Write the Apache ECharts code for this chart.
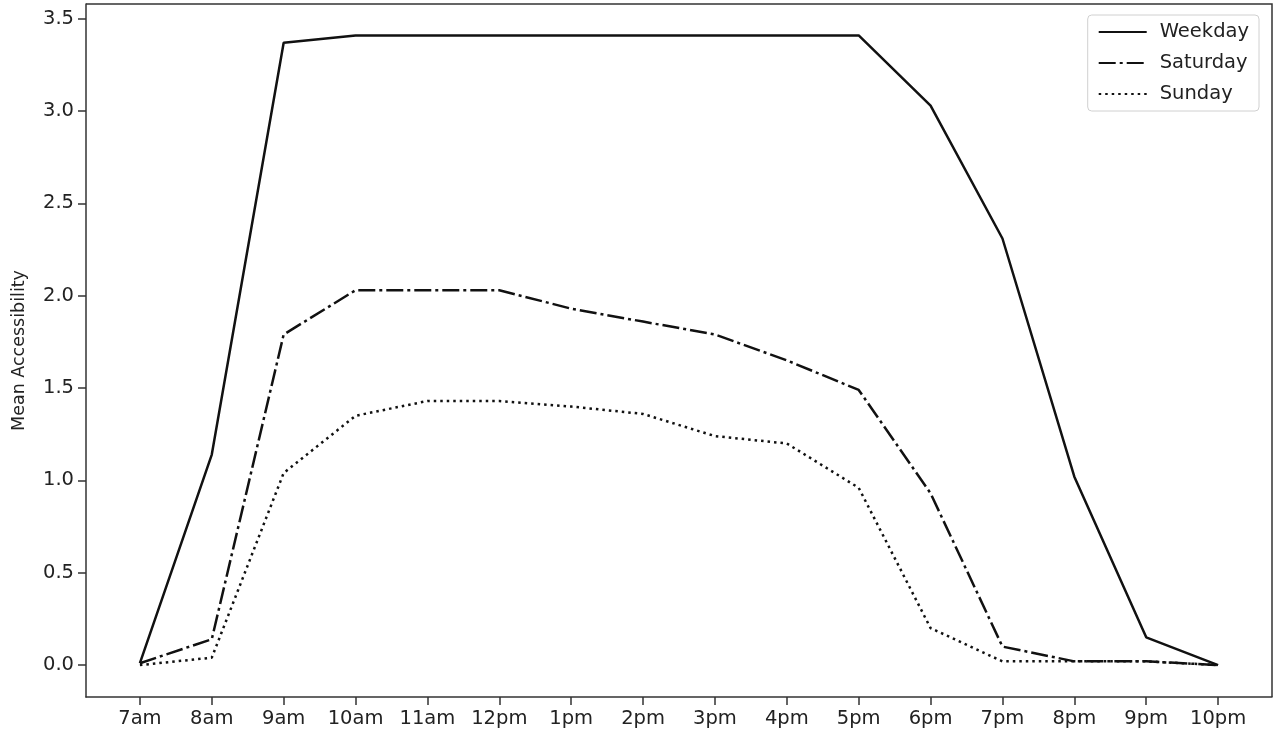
<!DOCTYPE html>
<html>
<head>
<meta charset="utf-8">
<script src="https://cdn.jsdelivr.net/npm/echarts@6/dist/echarts.min.js"></script>
<style>
  html, body { margin: 0; padding: 0; background: #fff; }
  #chart { width: 1280px; height: 742px; }
</style>
</head>
<body>
<div id="chart"></div>
<script>
// hours on the x axis
const hours = ['7am', '8am', '9am', '10am', '11am', '12pm', '1pm', '2pm', '3pm', '4pm', '5pm', '6pm', '7pm', '8pm', '9pm', '10pm'];

// mean accessibility per hour
const weekday = [0.01, 1.14, 3.37, 3.41, 3.41, 3.41, 3.41, 3.41, 3.41, 3.41, 3.41, 3.03, 2.31, 1.02, 0.15, 0.0];
const saturday = [0.01, 0.14, 1.79, 2.03, 2.03, 2.03, 1.93, 1.86, 1.79, 1.65, 1.49, 0.93, 0.10, 0.02, 0.02, 0.0];
const sunday = [0.0, 0.04, 1.04, 1.35, 1.43, 1.43, 1.40, 1.36, 1.24, 1.20, 0.96, 0.20, 0.02, 0.02, 0.02, 0.0];

const yTicks = [0, 0.5, 1.0, 1.5, 2.0, 2.5, 3.0, 3.5];

const chart = echarts.init(document.getElementById('chart'));

// pair each value with its hour index
const toPoints = arr => arr.map((v, i) => [i, v]);

const axisColor = '#333';
const font = 'DejaVu Sans';
const fs = 19.5;

const option = {
    animation: false,
    textStyle: { fontFamily: font },
    grid: { left: 86, right: 8, top: 4, bottom: 45, containLabel: false, outerBoundsMode: 'none' },
    legend: {
        right: 21,
        top: 15,
        orient: 'vertical',
        itemGap: 11,
        itemWidth: 48,
        itemHeight: 20,
        padding: [7, 10, 7, 10],
        borderColor: '#d0d0d0',
        borderWidth: 1,
        borderRadius: 4,
        itemStyle: { opacity: 0 },
        textStyle: { fontSize: fs, color: '#222', fontFamily: font, padding: [0, 0, 0, 8] },
        data: ['Weekday', 'Saturday', 'Sunday']
    },
    xAxis: {
        type: 'value',
        min: -0.75,
        max: 15.75,
        splitLine: { show: false },
        axisLine: { onZero: false, lineStyle: { color: axisColor, width: 1.5 } },
        axisTick: { show: true, customValues: hours.map((h, i) => i), length: 8, lineStyle: { color: axisColor, width: 1.5 } },
        axisLabel: {
            customValues: hours.map((h, i) => i),
            formatter: v => hours[Math.round(v)],
            fontSize: fs, color: '#222', margin: 12
        }
    },
    yAxis: {
        type: 'value',
        min: -0.173,
        max: 3.58,
        name: 'Mean Accessibility',
        nameLocation: 'middle',
        nameGap: 58,
        nameTextStyle: { fontSize: 17.5, color: '#222' },
        splitLine: { show: false },
        axisLine: { show: true, onZero: false, lineStyle: { color: axisColor, width: 1.5 } },
        axisTick: { show: true, customValues: yTicks, length: 8, lineStyle: { color: axisColor, width: 1.5 } },
        axisLabel: {
            customValues: yTicks,
            formatter: v => v.toFixed(1),
            fontSize: fs, color: '#222', margin: 12
        }
    },
    series: [
        {
            name: 'Weekday', type: 'line', data: toPoints(weekday),
            showSymbol: false, symbol: 'none',
            lineStyle: { color: '#111', width: 2.5, type: 'solid' },
            itemStyle: { color: '#111' }
        },
        {
            name: 'Saturday', type: 'line', data: toPoints(saturday),
            showSymbol: false, symbol: 'none',
            lineStyle: { color: '#111', width: 2.5, type: [17, 4, 3, 4] },
            itemStyle: { color: '#111' }
        },
        {
            name: 'Sunday', type: 'line', data: toPoints(sunday),
            showSymbol: false, symbol: 'none',
            lineStyle: { color: '#111', width: 2.5, type: [2.5, 4] },
            itemStyle: { color: '#111' }
        }
    ]
};

chart.setOption(option);

// top and right edges of the frame, taken from the grid rect
const rect = chart.getModel().getComponent('grid').coordinateSystem.getRect();
chart.setOption({
    graphic: [{
        type: 'polyline',
        shape: { points: [[rect.x, rect.y], [rect.x + rect.width, rect.y], [rect.x + rect.width, rect.y + rect.height]] },
        style: { stroke: axisColor, lineWidth: 1.5, fill: null },
        silent: true
    }]
});
</script>
</body>
</html>
